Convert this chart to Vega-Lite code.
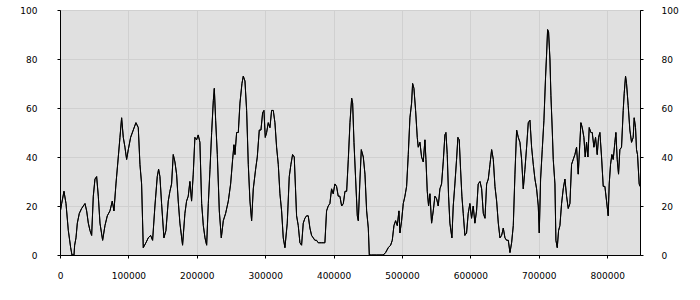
{
  "$schema": "https://vega.github.io/schema/vega-lite/v6.json",
  "autosize": {"type": "none"},
  "padding": {"left": 60, "top": 10, "right": 60, "bottom": 45},
  "width": 580,
  "height": 245,
  "background": "white",
  "config": {
    "view": {"fill": "#e0e0e0", "stroke": "black", "strokeWidth": 1},
    "axis": {
      "labelFont": "DejaVu Sans",
      "labelFontSize": 9,
      "labelColor": "black",
      "domainColor": "black",
      "tickColor": "black",
      "tickSize": 3,
      "gridColor": "#d0d0d0",
      "gridOpacity": 1,
      "labelFlush": false,
      "labelOverlap": false,
      "title": null
    }
  },
  "data": {"values": [
    {"x":0,"y":17},{"x":2435,"y":21},{"x":5844,"y":26},{"x":8766,"y":21},{"x":12175,"y":10},{"x":15584,"y":3},{"x":17532,"y":0},{"x":20454,"y":0},{"x":21428,"y":4},{"x":23376,"y":7},{"x":25324,"y":13},{"x":28246,"y":17},{"x":31655,"y":19},{"x":34090,"y":20},{"x":36525,"y":21},{"x":38960,"y":18},{"x":41395,"y":13},{"x":43830,"y":10},{"x":46265,"y":8},{"x":48700,"y":24},{"x":51135,"y":31},{"x":53570,"y":32},{"x":56005,"y":24},{"x":58440,"y":13},{"x":62336,"y":6},{"x":65745,"y":12},{"x":69154,"y":16},{"x":73050,"y":18},{"x":76459,"y":22},{"x":78894,"y":18},{"x":81816,"y":29},{"x":85225,"y":40},{"x":87660,"y":48},{"x":90095,"y":56},{"x":92530,"y":48},{"x":94965,"y":44},{"x":97400,"y":39},{"x":99835,"y":43},{"x":103244,"y":48},{"x":107140,"y":51},{"x":111036,"y":54},{"x":114445,"y":52},{"x":116880,"y":37},{"x":119315,"y":29},{"x":121750,"y":3},{"x":125646,"y":5},{"x":129055,"y":7},{"x":132464,"y":8},{"x":135386,"y":6},{"x":138795,"y":20},{"x":142204,"y":32},{"x":144152,"y":35},{"x":146100,"y":32},{"x":148535,"y":21},{"x":151944,"y":7},{"x":154866,"y":10},{"x":158275,"y":22},{"x":160710,"y":26},{"x":163145,"y":29},{"x":165580,"y":41},{"x":168015,"y":38},{"x":170450,"y":33},{"x":172885,"y":22},{"x":175320,"y":13},{"x":179216,"y":4},{"x":182625,"y":17},{"x":185060,"y":22},{"x":187495,"y":24},{"x":189930,"y":30},{"x":192365,"y":22},{"x":194800,"y":33},{"x":197235,"y":48},{"x":199670,"y":47},{"x":202105,"y":49},{"x":204540,"y":46},
    {"x":207113,"y":21},{"x":209548,"y":12},{"x":211983,"y":7},{"x":214418,"y":4},{"x":216853,"y":21},{"x":219288,"y":35},{"x":221723,"y":50},{"x":224158,"y":63},{"x":225619,"y":68},{"x":227567,"y":55},{"x":230002,"y":41},{"x":232924,"y":18},{"x":235846,"y":7},{"x":238768,"y":14},{"x":242177,"y":17},{"x":246073,"y":22},{"x":249482,"y":29},{"x":252404,"y":39},{"x":254352,"y":45},{"x":255813,"y":41},{"x":258248,"y":50},{"x":260683,"y":50},{"x":263118,"y":62},{"x":266040,"y":70},{"x":267988,"y":73},{"x":270423,"y":71},{"x":272858,"y":59},{"x":275293,"y":37},{"x":277728,"y":22},{"x":280163,"y":14},{"x":282598,"y":27},{"x":286007,"y":35},{"x":288442,"y":40},{"x":291364,"y":51},{"x":293799,"y":51},{"x":296234,"y":58},{"x":298182,"y":59},{"x":300130,"y":48},{"x":302078,"y":50},{"x":304513,"y":54},{"x":306948,"y":52},{"x":309383,"y":59},{"x":311818,"y":59},{"x":314253,"y":54},{"x":316688,"y":44},{"x":319123,"y":37},{"x":321558,"y":25},{"x":323993,"y":18},{"x":326428,"y":7},{"x":328863,"y":3},{"x":332272,"y":13},{"x":335194,"y":32},{"x":337629,"y":37},{"x":340064,"y":41},{"x":342499,"y":40},{"x":345908,"y":16},{"x":348343,"y":12},{"x":350778,"y":5},{"x":353213,"y":4},{"x":355648,"y":13},{"x":358083,"y":15},{"x":360518,"y":16},{"x":362953,"y":16},{"x":365388,"y":11},{"x":367823,"y":8},{"x":370258,"y":7},{"x":372693,"y":6},{"x":375128,"y":6},{"x":377563,"y":5},{"x":379998,"y":5},{"x":382433,"y":5},{"x":384868,"y":5},{"x":387303,"y":5},{"x":389738,"y":18},{"x":392173,"y":20},{"x":394608,"y":21},{"x":397043,"y":27},{"x":399478,"y":25},{"x":401913,"y":29},{"x":404348,"y":28},{"x":406783,"y":24},{"x":409218,"y":24},
    {"x":411792,"y":20},{"x":414227,"y":21},{"x":416662,"y":26},{"x":419097,"y":26},{"x":421532,"y":39},{"x":423967,"y":54},{"x":426402,"y":64},{"x":427863,"y":62},{"x":429811,"y":46},{"x":432246,"y":31},{"x":434681,"y":16},{"x":436142,"y":14},{"x":438577,"y":31},{"x":440525,"y":43},{"x":443447,"y":40},{"x":445882,"y":33},{"x":448317,"y":18},{"x":450752,"y":11},{"x":452213,"y":0},{"x":455622,"y":0},{"x":462927,"y":0},{"x":472667,"y":0},{"x":476076,"y":1},{"x":479972,"y":3},{"x":483381,"y":4},{"x":485816,"y":6},{"x":488251,"y":12},{"x":490686,"y":14},{"x":493121,"y":12},{"x":495556,"y":18},{"x":497017,"y":9},{"x":499452,"y":14},{"x":501887,"y":21},{"x":504322,"y":24},{"x":506757,"y":28},{"x":509192,"y":41},{"x":511627,"y":56},{"x":514062,"y":62},{"x":515523,"y":70},{"x":517471,"y":68},{"x":519906,"y":59},{"x":522341,"y":48},{"x":523802,"y":44},{"x":526237,"y":46},{"x":528672,"y":40},{"x":531107,"y":38},{"x":533542,"y":47},{"x":535003,"y":39},{"x":536951,"y":26},{"x":538899,"y":20},{"x":540847,"y":25},{"x":543282,"y":13},{"x":545717,"y":18},{"x":548152,"y":24},{"x":550587,"y":23},{"x":553022,"y":20},{"x":555457,"y":27},{"x":557892,"y":29},{"x":560327,"y":38},{"x":562762,"y":49},{"x":564223,"y":50},{"x":566171,"y":41},{"x":568119,"y":24},{"x":570067,"y":13},{"x":572989,"y":7},{"x":574937,"y":20},{"x":577372,"y":29},{"x":579807,"y":39},{"x":581755,"y":48},{"x":583703,"y":47},{"x":585651,"y":35},{"x":587599,"y":24},{"x":589547,"y":17},{"x":591982,"y":8},{"x":594417,"y":9},{"x":596852,"y":17},{"x":599287,"y":21},{"x":601722,"y":15},{"x":604157,"y":20},{"x":606592,"y":13},{"x":609027,"y":18},{"x":611462,"y":29},
    {"x":614035,"y":30},{"x":616470,"y":27},{"x":618905,"y":17},{"x":621340,"y":15},{"x":623775,"y":29},{"x":626210,"y":31},{"x":628645,"y":37},{"x":631080,"y":43},{"x":633515,"y":39},{"x":635950,"y":28},{"x":638385,"y":22},{"x":640820,"y":13},{"x":643255,"y":7},{"x":645690,"y":8},{"x":648125,"y":11},{"x":650560,"y":7},{"x":652995,"y":6},{"x":655430,"y":6},{"x":657865,"y":1},{"x":660300,"y":5},{"x":662735,"y":12},{"x":665170,"y":33},{"x":667605,"y":51},{"x":670040,"y":48},{"x":672475,"y":46},{"x":674910,"y":39},{"x":677345,"y":27},{"x":679780,"y":35},{"x":682215,"y":44},{"x":684650,"y":54},{"x":687085,"y":55},{"x":689520,"y":44},{"x":691955,"y":37},{"x":694390,"y":31},{"x":696825,"y":27},{"x":699260,"y":20},{"x":700721,"y":9},{"x":702669,"y":31},{"x":705104,"y":43},{"x":707539,"y":55},{"x":709974,"y":73},{"x":711435,"y":82},{"x":712896,"y":92},{"x":714357,"y":91},{"x":716305,"y":80},{"x":717766,"y":65},{"x":719714,"y":51},{"x":721175,"y":39},{"x":723610,"y":29},{"x":725071,"y":6},{"x":727019,"y":3},{"x":728967,"y":10},{"x":730915,"y":12},{"x":733350,"y":21},{"x":735785,"y":27},{"x":738220,"y":31},{"x":740655,"y":24},{"x":743090,"y":19},{"x":745525,"y":21},{"x":747960,"y":37},{"x":750395,"y":39},{"x":752830,"y":41},{"x":755265,"y":44},{"x":757700,"y":33},{"x":760135,"y":46},{"x":761596,"y":54},{"x":763544,"y":52},{"x":765979,"y":48},{"x":767927,"y":40},{"x":769875,"y":46},{"x":771823,"y":40},{"x":773771,"y":52},{"x":776206,"y":50},{"x":778154,"y":50},{"x":780589,"y":44},{"x":783024,"y":48},{"x":785459,"y":41},{"x":787407,"y":48},{"x":789355,"y":50},{"x":791790,"y":40},{"x":794225,"y":28},{"x":796660,"y":28},{"x":799095,"y":22},{"x":801530,"y":16},{"x":802991,"y":29},{"x":804939,"y":37},{"x":806887,"y":41},{"x":808835,"y":39},{"x":811270,"y":46},{"x":812731,"y":50},{"x":814679,"y":39},{"x":816627,"y":33},{"x":818575,"y":43},{"x":821010,"y":44},{"x":823445,"y":59},{"x":824906,"y":66},{"x":826854,"y":73},{"x":828315,"y":70},{"x":830750,"y":61},{"x":833185,"y":51},{"x":835620,"y":46},{"x":838055,"y":48},{"x":839516,"y":56},{"x":841464,"y":52},{"x":842925,"y":43},{"x":844360,"y":41},{"x":846821,"y":29},{"x":848000,"y":28}
  ]},
  "layer": [
    {
      "mark": {"type": "line", "color": "black", "strokeWidth": 1, "clip": true},
      "encoding": {
        "x": {"field": "x", "type": "quantitative",
              "scale": {"domain": [0, 848000], "nice": false, "zero": false},
              "axis": {"values": [0,100000,200000,300000,400000,500000,600000,700000,800000], "format": "d", "grid": true, "labelPadding": 13, "domain": true}},
        "y": {"field": "y", "type": "quantitative",
              "scale": {"domain": [0, 100], "nice": false},
              "axis": {"orient": "left", "values": [0,20,40,60,80,100], "grid": true, "labelPadding": 20}}
      }
    },
    {
      "mark": {"type": "line", "color": "black", "strokeWidth": 1, "clip": true},
      "encoding": {
        "x": {"field": "x", "type": "quantitative"},
        "y": {"field": "y", "type": "quantitative",
              "axis": {"orient": "right", "values": [0,20,40,60,80,100], "grid": false, "labelPadding": 18}}
      }
    }
  ],
  "resolve": {"axis": {"y": "independent"}}
}
